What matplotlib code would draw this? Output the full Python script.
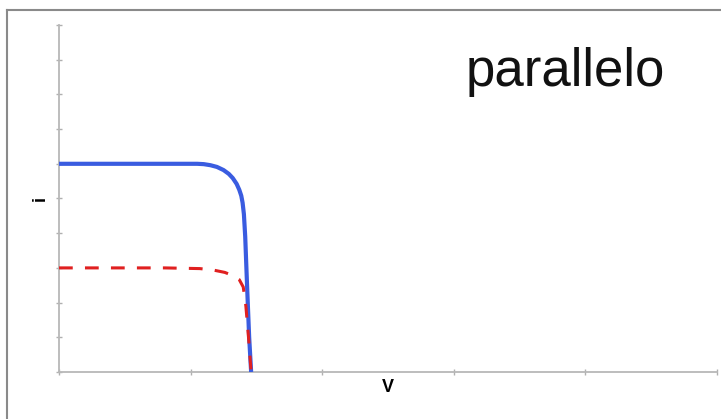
import matplotlib
matplotlib.use("Agg")
import matplotlib.pyplot as plt
from matplotlib.lines import Line2D

# Current-voltage curves of two cells, read as (voltage, current) pairs
v_total = [0.0, 0.40, 0.80, 1.05, 1.10, 1.15, 1.20, 1.25, 1.29, 1.32, 1.35,
           1.37, 1.385, 1.395, 1.405, 1.415, 1.43, 1.445, 1.46]
i_total = [6.0, 6.0, 6.0, 6.0, 5.99, 5.96, 5.91, 5.82, 5.71, 5.59, 5.42,
           5.25, 5.08, 4.88, 4.55, 3.90, 2.40, 1.00, 0.0]

v_single = [0.0, 0.40, 0.80, 1.07, 1.17, 1.26, 1.32, 1.37, 1.40, 1.42, 1.44, 1.46]
i_single = [3.0, 3.0, 3.0, 2.98, 2.94, 2.87, 2.78, 2.66, 2.45, 1.90, 1.00, 0.0]

x_ticks = [0, 1, 2, 3, 4, 5]
y_ticks = [0, 1, 2, 3, 4, 5, 6, 7, 8, 9, 10]

title_text = "parallelo"
x_label = "V"
y_label = "i"

plt.rcParams["font.family"] = ["Liberation Sans", "DejaVu Sans"]

fig = plt.figure(figsize=(7.21, 4.19), dpi=100)
ax = fig.add_axes([59 / 721, 1 - 372 / 419, 658 / 721, 347 / 419])

ax.plot(v_total, i_total, color="#3a5ce0", lw=3.0, solid_joinstyle="round",
        solid_capstyle="butt", zorder=3)
ax.plot(v_single, i_single, color="#e02020", lw=2.2, dashes=(4.5, 4.0), zorder=4)

ax.set_xlim(x_ticks[0], x_ticks[-1])
ax.set_ylim(y_ticks[0], y_ticks[-1])
ax.set_xticks(x_ticks)
ax.set_yticks(y_ticks)
ax.tick_params(axis="both", direction="inout", length=4.5, width=1.0,
               color="#b0b0b0", labelleft=False, labelbottom=False)

for side in ("top", "right"):
    ax.spines[side].set_visible(False)
for side in ("left", "bottom"):
    ax.spines[side].set_color("#b8b8b8")
    ax.spines[side].set_linewidth(1.3)

ax.set_xlabel(x_label, fontsize=13, fontweight="bold", va="center")
ax.xaxis.set_label_coords(0.5, -0.044)
ax.set_ylabel(y_label, fontsize=13, fontweight="bold", va="center", rotation=90)
ax.yaxis.set_label_coords(-0.029, 0.5)

fig.text(565 / 721, 1 - 72 / 419, title_text, fontsize=38, color="#111111",
         ha="center", va="center")

# Frame edges along the left and top of the figure
fig.add_artist(Line2D([7 / 721, 7 / 721], [0, 1 - 10 / 419], color="#8a8a8a", lw=1.5,
                      transform=fig.transFigure))
fig.add_artist(Line2D([7 / 721, 1], [1 - 10 / 419, 1 - 10 / 419], color="#8a8a8a", lw=1.5,
                      transform=fig.transFigure))

fig.savefig("out.png", dpi=100)
